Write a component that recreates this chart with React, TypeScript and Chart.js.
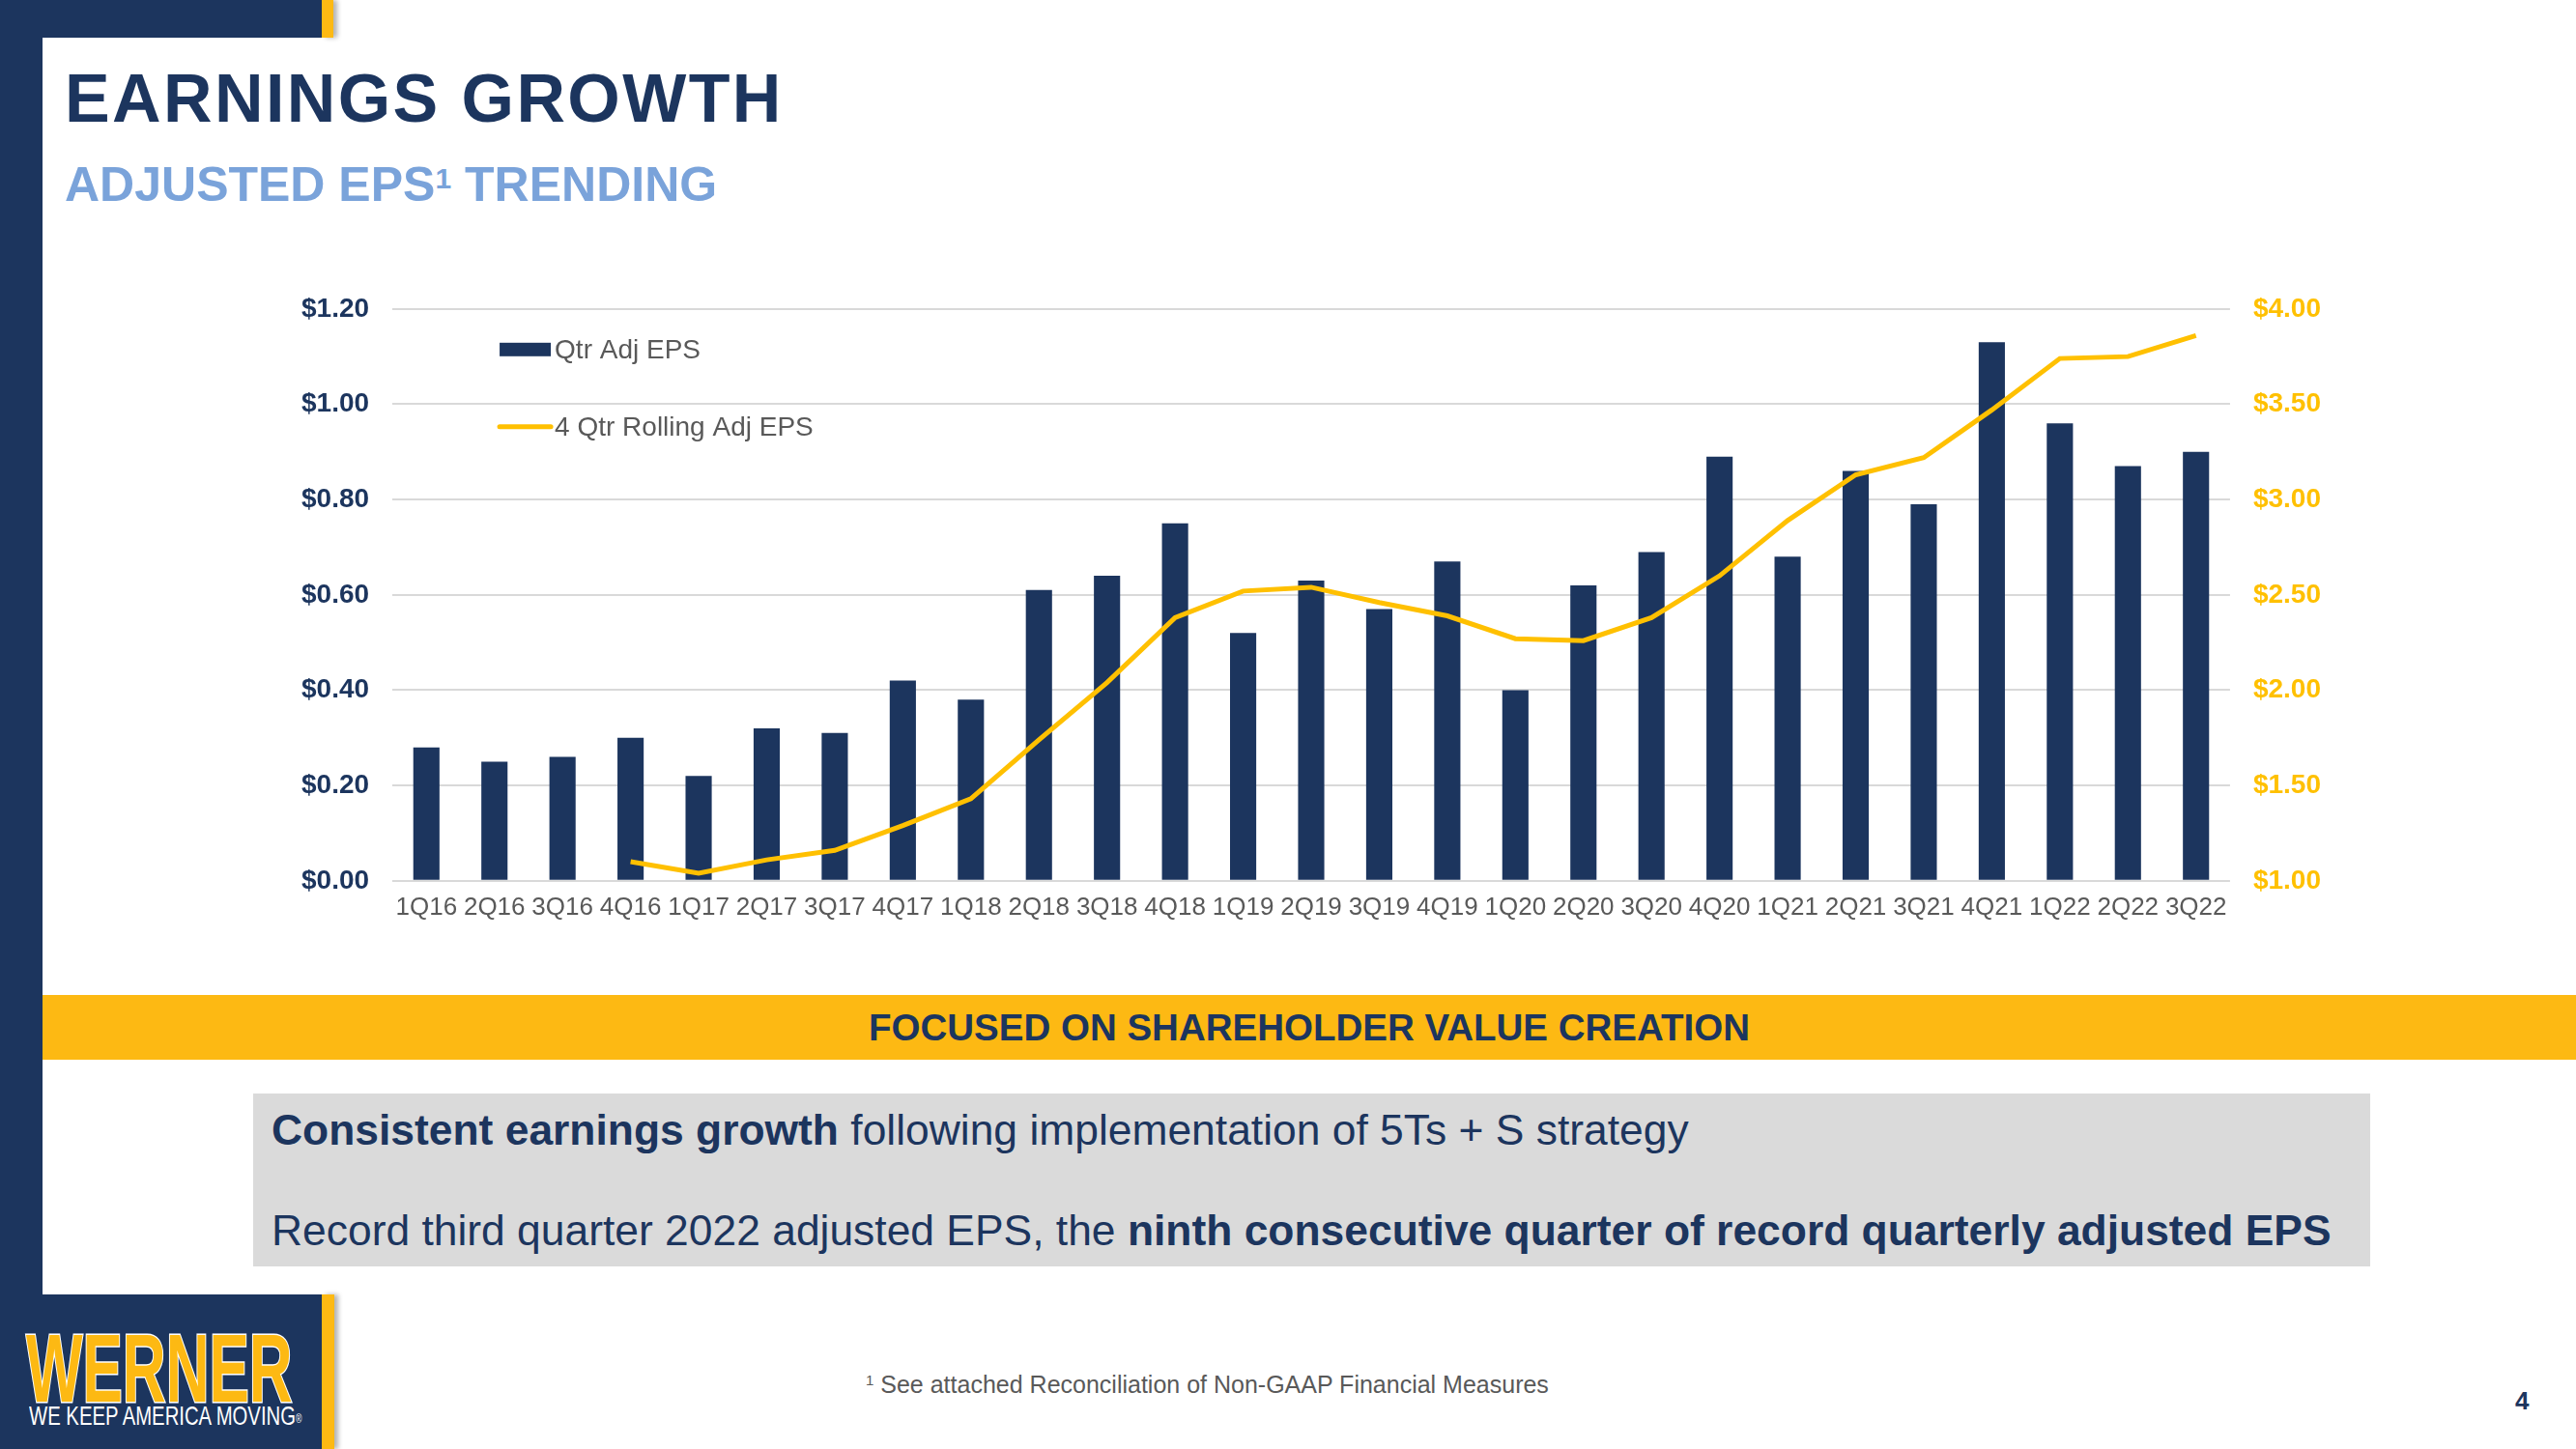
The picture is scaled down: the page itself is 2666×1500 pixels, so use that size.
import React, { useEffect, useRef } from 'react';
import { Chart, registerables } from 'chart.js';

Chart.register(...registerables);

const categories = [
  '1Q16', '2Q16', '3Q16', '4Q16', '1Q17', '2Q17', '3Q17', '4Q17', '1Q18', '2Q18', '3Q18', '4Q18',
  '1Q19', '2Q19', '3Q19', '4Q19', '1Q20', '2Q20', '3Q20', '4Q20', '1Q21', '2Q21', '3Q21', '4Q21',
  '1Q22', '2Q22', '3Q22',
];

const qtrAdjEps = [
  0.28, 0.25, 0.26, 0.30, 0.22, 0.32, 0.31, 0.42, 0.38, 0.61, 0.64, 0.75,
  0.52, 0.63, 0.57, 0.67, 0.40, 0.62, 0.69, 0.89, 0.68, 0.86, 0.79, 1.13,
  0.96, 0.87, 0.90,
];

const rollingAdjEps = [
  null, null, null, 1.10, 1.04, 1.11, 1.16, 1.29, 1.43, 1.74, 2.04, 2.38,
  2.52, 2.54, 2.46, 2.39, 2.27, 2.26, 2.38, 2.60, 2.89, 3.13, 3.22, 3.47,
  3.74, 3.75, 3.86,
];

const seriesNames = ['Qtr Adj EPS', '4 Qtr Rolling Adj EPS'];

const leftTickLabels = ['$0.00', '$0.20', '$0.40', '$0.60', '$0.80', '$1.00', '$1.20'];
const rightTickLabels = ['$1.00', '$1.50', '$2.00', '$2.50', '$3.00', '$3.50', '$4.00'];

const NAVY = '#1c355e';
const YELLOW = '#ffc000';
const BANNER = '#fdb913';
const GRAY_TEXT = '#595959';
const FONT = '"Liberation Sans", Arial, Helvetica, sans-serif';

const legendPlugin = {
  id: 'insideLegend',
  afterDraw(chart: any) {
    const { ctx, chartArea } = chart;
    const ds = chart.data.datasets;
    const x0 = chartArea.left + 111;
    const swW = 53;
    ctx.save();
    ctx.font = `28px ${FONT}`;
    ctx.textBaseline = 'middle';
    ctx.textAlign = 'left';
    // bar item
    const y1 = chartArea.top + 42;
    ctx.fillStyle = ds[0].backgroundColor;
    ctx.fillRect(x0, y1 - 7, swW, 14);
    ctx.fillStyle = GRAY_TEXT;
    ctx.fillText(ds[0].label, x0 + swW + 4, y1 + 1);
    // line item
    const y2 = chartArea.top + 122;
    ctx.strokeStyle = ds[1].borderColor;
    ctx.lineWidth = 5;
    ctx.lineCap = 'round';
    ctx.beginPath();
    ctx.moveTo(x0, y2);
    ctx.lineTo(x0 + swW, y2);
    ctx.stroke();
    ctx.fillStyle = GRAY_TEXT;
    ctx.fillText(ds[1].label, x0 + swW + 4, y2 + 1);
    ctx.restore();
  },
};

export default function App() {
  const canvasRef = useRef<HTMLCanvasElement | null>(null);

  useEffect(() => {
    if (!canvasRef.current) return;
    Chart.defaults.font.family = FONT;
    const chart = new Chart(canvasRef.current, {
      type: 'bar',
      data: {
        labels: categories,
        datasets: [
          {
            type: 'bar',
            label: seriesNames[0],
            data: qtrAdjEps,
            backgroundColor: NAVY,
            borderWidth: 0,
            categoryPercentage: 1,
            barPercentage: 0.385,
            yAxisID: 'y',
            order: 2,
          },
          {
            type: 'line',
            label: seriesNames[1],
            data: rollingAdjEps as any,
            borderColor: YELLOW,
            backgroundColor: YELLOW,
            borderWidth: 5,
            pointRadius: 0,
            tension: 0,
            spanGaps: false,
            yAxisID: 'y1',
            order: 1,
          } as any,
        ],
      },
      options: {
        animation: false,
        responsive: true,
        maintainAspectRatio: false,
        layout: { padding: 0 },
        plugins: {
          legend: { display: false },
          tooltip: { enabled: false },
          title: { display: false },
        },
        scales: {
          x: {
            grid: { display: false, drawTicks: false },
            border: { display: false },
            ticks: {
              color: GRAY_TEXT,
              font: { size: 26 },
              padding: 12,
              maxRotation: 0,
              minRotation: 0,
              autoSkip: false,
            },
          },
          y: {
            position: 'left',
            min: 0,
            max: 1.2,
            grid: { color: '#d9d9d9', lineWidth: 2, drawTicks: false },
            border: { display: false },
            ticks: {
              stepSize: 0.2,
              color: NAVY,
              font: { size: 28, weight: 'bold' },
              padding: 24,
              callback: (_v: any, i: number) => leftTickLabels[i],
            },
          },
          y1: {
            position: 'right',
            min: 1,
            max: 4,
            grid: { display: false, drawTicks: false },
            border: { display: false },
            ticks: {
              stepSize: 0.5,
              color: YELLOW,
              font: { size: 28, weight: 'bold' },
              padding: 24,
              callback: (_v: any, i: number) => rightTickLabels[i],
            },
          },
        },
      },
      plugins: [legendPlugin],
    } as any);
    return () => chart.destroy();
  }, []);

  return (
    <div
      style={{
        position: 'absolute',
        left: 0,
        top: 0,
        width: 2666,
        height: 1500,
        background: '#ffffff',
        overflow: 'hidden',
        fontFamily: FONT,
      }}
    >
      {/* left navy band */}
      <div style={{ position: 'absolute', left: 0, top: 0, width: 44, height: 1500, background: NAVY }} />
      {/* top-left navy block + yellow strip */}
      <div style={{ position: 'absolute', left: 0, top: 0, width: 333, height: 39, background: NAVY }} />
      <div style={{ position: 'absolute', left: 333, top: 0, width: 12, height: 39, background: BANNER, boxShadow: '4px 0 5px rgba(0,0,0,0.3)' }} />
      {/* bottom-left navy block + yellow strip */}
      <div style={{ position: 'absolute', left: 0, top: 1340, width: 333, height: 160, background: NAVY }} />
      <div style={{ position: 'absolute', left: 333, top: 1340, width: 13, height: 160, background: BANNER, boxShadow: '4px 0 5px rgba(0,0,0,0.3)' }} />

      {/* Title */}
      <div
        style={{
          position: 'absolute',
          left: 67,
          top: 67,
          fontSize: 70,
          lineHeight: '70px',
          fontWeight: 'bold',
          color: NAVY,
          letterSpacing: 2.4,
          whiteSpace: 'nowrap',
        }}
      >
        EARNINGS GROWTH
      </div>
      <div
        style={{
          position: 'absolute',
          left: 67,
          top: 166,
          fontSize: 50,
          lineHeight: '50px',
          fontWeight: 'bold',
          color: '#7aa3da',
          whiteSpace: 'nowrap',
        }}
      >
        ADJUSTED EPS
        <span style={{ display: 'inline-block', fontSize: 30, lineHeight: '30px', verticalAlign: 'top', position: 'relative', top: 4 }}>1</span>
        {' '}TRENDING
      </div>

      {/* Chart */}
      <div style={{ position: 'absolute', left: 288, top: 279, width: 2138, height: 688 }}>
        <canvas ref={canvasRef} />
      </div>

      {/* Banner */}
      <div
        style={{
          position: 'absolute',
          left: 44,
          top: 1030,
          width: 2622,
          height: 67,
          background: BANNER,
          color: NAVY,
          fontWeight: 'bold',
          fontSize: 38.5,
          lineHeight: '67px',
          textAlign: 'center',
          whiteSpace: 'nowrap',
        }}
      >
        FOCUSED ON SHAREHOLDER VALUE CREATION
      </div>

      {/* Gray box */}
      <div
        style={{
          position: 'absolute',
          left: 262,
          top: 1132,
          width: 2191,
          height: 179,
          background: '#dadada',
        }}
      />
      <div
        style={{
          position: 'absolute',
          left: 281,
          top: 1148,
          fontSize: 44.4,
          lineHeight: '44px',
          color: NAVY,
          whiteSpace: 'nowrap',
        }}
      >
        <b>Consistent earnings growth</b> following implementation of 5Ts + S strategy
      </div>
      <div
        style={{
          position: 'absolute',
          left: 281,
          top: 1252,
          fontSize: 44.4,
          lineHeight: '44px',
          color: NAVY,
          whiteSpace: 'nowrap',
        }}
      >
        Record third quarter 2022 adjusted EPS, the <b>ninth consecutive quarter of record quarterly adjusted EPS</b>
      </div>

      {/* Footnote */}
      <div
        style={{
          position: 'absolute',
          left: 896,
          top: 1419,
          fontSize: 25,
          lineHeight: '28px',
          color: GRAY_TEXT,
          whiteSpace: 'nowrap',
        }}
      >
        <span style={{ display: 'inline-block', fontSize: 15, lineHeight: '15px', verticalAlign: 'top', position: 'relative', top: 2 }}>1</span> See attached Reconciliation of Non-GAAP Financial Measures
      </div>

      {/* Page number */}
      <div
        style={{
          position: 'absolute',
          left: 2603,
          top: 1436,
          fontSize: 26,
          lineHeight: '28px',
          fontWeight: 'bold',
          color: NAVY,
        }}
      >
        4
      </div>

      {/* Logo */}
      <div
        style={{
          position: 'absolute',
          left: 27,
          top: 1366,
          fontSize: 100,
          lineHeight: '100px',
          fontWeight: 'bold',
          color: BANNER,
          WebkitTextStroke: '3px #ffffff',
          paintOrder: 'stroke fill',
          transform: 'scaleX(0.62)',
          transformOrigin: 'left top',
          whiteSpace: 'nowrap',
        } as any}
      >
        WERNER
      </div>
      <div
        style={{
          position: 'absolute',
          left: 30,
          top: 1452,
          fontSize: 28,
          lineHeight: '28px',
          color: '#ffffff',
          transform: 'scaleX(0.725)',
          transformOrigin: 'left top',
          whiteSpace: 'nowrap',
        }}
      >
        WE KEEP AMERICA MOVING<span style={{ fontSize: 12, position: 'relative', top: -2 }}>®</span>
      </div>
    </div>
  );
}
